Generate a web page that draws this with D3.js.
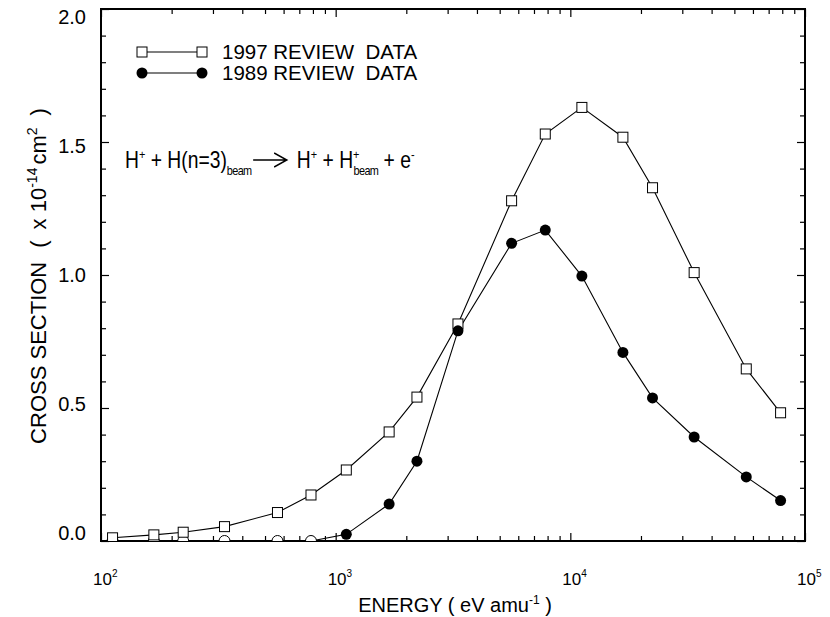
<!DOCTYPE html>
<html>
<head>
<meta charset="utf-8">
<script src="https://cdn.jsdelivr.net/npm/d3@7"></script>
<style>
  body { margin: 0; background: #fff; }
  svg { display: block; }
  text { font-family: "Liberation Sans", Arial, Helvetica, sans-serif; fill: #000; white-space: pre; }
</style>
</head>
<body>
<svg id="chart" width="830" height="617"></svg>
<script>
// Ionization cross section, H+ + H(n=3) collisions (units of 1e-14 cm^2)
const energy1997 = [112, 168, 224, 336, 565, 785, 1110, 1690, 2220, 3320, 5620, 7820, 11200, 16750, 22400, 33700, 56200, 78700];
const sigma1997  = [0.012, 0.023, 0.033, 0.054, 0.107, 0.173, 0.267, 0.41, 0.541, 0.816, 1.279, 1.530, 1.630, 1.518, 1.328, 1.009, 0.647, 0.482];

const energy1989 = [1110, 1690, 2220, 3320, 5620, 7820, 11200, 16750, 22400, 33700, 56200, 78700];
const sigma1989  = [0.025, 0.139, 0.30, 0.79, 1.119, 1.169, 0.996, 0.709, 0.538, 0.391, 0.241, 0.152];

// 1989 points at the lower edge of the range (drawn as open circles)
const energy1989Low = [112, 168, 224, 336, 565, 785];
const sigma1989Low  = [0, 0, 0, 0, 0, 0];

const xMajorTicks = [1e2, 1e3, 1e4, 1e5];
const xTickExponents = ["2", "3", "4", "5"];
const yMajorTicks = [0, 0.5, 1.0, 1.5, 2.0];
const yTickLabels = ["0.0", "0.5", "1.0", "1.5", "2.0"];
const legendLabels = ["1997 REVIEW  DATA", "1989 REVIEW  DATA"];

const svg = d3.select("#chart");
const plot = { left: 101, right: 805, top: 9, bottom: 541 };

const x = d3.scaleLog().domain([1e2, 1e5]).range([plot.left, plot.right]);
const y = d3.scaleLinear().domain([0, 2]).range([plot.bottom, plot.top]);
// tick labels sit slightly inside the frame's vertical extent
const yLabel = d3.scaleLinear().domain([0, 2]).range([533, 17]);

// minor tick values
const xMinor = [];
for (let d = 2; d < 5; d++) for (let m = 2; m <= 9; m++) xMinor.push(m * Math.pow(10, d));
const yMinor = d3.range(0, 21).map(i => i / 10).filter(v => !yMajorTicks.some(t => Math.abs(t - v) < 1e-9));

const axes = svg.append("g");
function tickAxis(axisFn, scale, values, size, transform) {
  const g = axes.append("g").attr("transform", transform)
    .call(axisFn(scale).tickValues(values).tickSize(size).tickFormat(""));
  g.select(".domain").remove();
  g.selectAll(".tick line").attr("stroke", "#000").attr("stroke-width", 1.2);
  return g;
}
// inward ticks on all four sides
tickAxis(d3.axisBottom, x, xMinor, -5, `translate(0,${plot.bottom})`);
tickAxis(d3.axisBottom, x, xMajorTicks, -8, `translate(0,${plot.bottom})`);
tickAxis(d3.axisTop, x, xMinor, -5, `translate(0,${plot.top})`);
tickAxis(d3.axisTop, x, xMajorTicks, -8, `translate(0,${plot.top})`);
tickAxis(d3.axisLeft, y, yMinor, -5, `translate(${plot.left},0)`);
tickAxis(d3.axisLeft, y, yMajorTicks, -8, `translate(${plot.left},0)`);
tickAxis(d3.axisRight, y, yMinor, -5, `translate(${plot.right},0)`);
tickAxis(d3.axisRight, y, yMajorTicks, -8, `translate(${plot.right},0)`);

// frame
axes.append("rect")
  .attr("x", plot.left).attr("y", plot.top)
  .attr("width", plot.right - plot.left).attr("height", plot.bottom - plot.top)
  .attr("fill", "none").attr("stroke", "#000").attr("stroke-width", 2);

// y tick labels
svg.append("g").selectAll("text").data(yMajorTicks).join("text")
  .attr("x", 86).attr("y", d => yLabel(d)).attr("dy", "0.36em")
  .attr("text-anchor", "end").attr("font-size", 20)
  .text((d, i) => yTickLabels[i]);

// x tick labels: 10 with superscript exponent
const xl = svg.append("g").selectAll("text").data(xMajorTicks).join("text")
  .attr("x", d => x(d) - 8).attr("y", 585).attr("font-size", 17);
xl.append("tspan").text("10");
xl.append("tspan").attr("dy", -8).attr("font-size", 10).text((d, i) => xTickExponents[i]);

// axis titles
const xt = svg.append("text").attr("x", 455).attr("y", 612).attr("text-anchor", "middle").attr("font-size", 20);
xt.append("tspan").text("ENERGY ( eV amu");
xt.append("tspan").attr("dy", -8).attr("font-size", 12).text("-1");
xt.append("tspan").attr("dy", 8).text(" )");

const yt = svg.append("text").attr("transform", "translate(46,276) rotate(-90)")
  .attr("text-anchor", "middle").attr("font-size", 22);
yt.append("tspan").text("CROSS SECTION");
yt.append("tspan").attr("dx", 14).text("(");
yt.append("tspan").attr("dx", 11).text("x 10");
yt.append("tspan").attr("dy", -9).attr("font-size", 14).text("-14");
yt.append("tspan").attr("dx", 3).attr("dy", 9).text("cm");
yt.append("tspan").attr("dy", -9).attr("font-size", 14).text("2");
yt.append("tspan").attr("dx", 12).attr("dy", 9).text(")");

// data
svg.append("clipPath").attr("id", "plotClip").append("rect")
  .attr("x", plot.left).attr("y", plot.top)
  .attr("width", plot.right - plot.left).attr("height", plot.bottom - plot.top);
const data = svg.append("g").attr("clip-path", "url(#plotClip)");

const line = d3.line().x(d => x(d[0])).y(d => y(d[1]));
const pts1997 = energy1997.map((e, i) => [e, sigma1997[i]]);
const pts1989 = energy1989.map((e, i) => [e, sigma1989[i]]);
const pts1989Low = energy1989Low.map((e, i) => [e, sigma1989Low[i]]);

data.append("path").datum(pts1989Low.concat(pts1989)).attr("d", line)
  .attr("fill", "none").attr("stroke", "#000").attr("stroke-width", 1.1);
data.append("path").datum(pts1997).attr("d", line)
  .attr("fill", "none").attr("stroke", "#000").attr("stroke-width", 1.1);

const sq = 10, r = 5.5;
data.selectAll(".low").data(pts1989Low).join("circle").attr("class", "low")
  .attr("cx", d => x(d[0])).attr("cy", d => y(d[1])).attr("r", r)
  .attr("fill", "#fff").attr("stroke", "#000").attr("stroke-width", 1);
data.selectAll(".sq").data(pts1997).join("rect").attr("class", "sq")
  .attr("x", d => x(d[0]) - sq / 2).attr("y", d => y(d[1]) - sq / 2)
  .attr("width", sq).attr("height", sq)
  .attr("fill", "#fff").attr("stroke", "#000").attr("stroke-width", 1);
data.selectAll(".dot").data(pts1989).join("circle").attr("class", "dot")
  .attr("cx", d => x(d[0])).attr("cy", d => y(d[1])).attr("r", r)
  .attr("fill", "#000");

// legend
const leg = svg.append("g");
[0, 1].forEach(i => {
  const ly = 52 + i * 21;
  leg.append("line").attr("x1", 142).attr("x2", 202).attr("y1", ly).attr("y2", ly)
    .attr("stroke", "#000").attr("stroke-width", 1.1);
  [142, 202].forEach(cx => {
    if (i === 0) {
      leg.append("rect").attr("x", cx - sq / 2).attr("y", ly - sq / 2).attr("width", sq).attr("height", sq)
        .attr("fill", "#fff").attr("stroke", "#000");
    } else {
      leg.append("circle").attr("cx", cx).attr("cy", ly).attr("r", r).attr("fill", "#000");
    }
  });
  leg.append("text").attr("x", 222).attr("y", ly).attr("dy", "0.36em")
    .attr("font-size", 20.5).text(legendLabels[i]);
});

// reaction
const eq = svg.append("g").attr("transform", "translate(125,168) scale(0.84,1)");
const left = eq.append("text").attr("font-size", 23);
left.append("tspan").text("H");
left.append("tspan").attr("dy", -9).attr("font-size", 13).text("+");
left.append("tspan").attr("dy", 9).text(" + H(n=3)");
left.append("tspan").attr("dy", 7).attr("font-size", 13).attr("letter-spacing", -0.8).text("beam");
const lw = left.node().getComputedTextLength();
const ax0 = lw + 2, ax1 = lw + 42, ay = -8;
eq.append("path")
  .attr("d", `M${ax0},${ay}H${ax1}M${ax1 - 15},${ay - 7}L${ax1},${ay}L${ax1 - 15},${ay + 7}`)
  .attr("fill", "none").attr("stroke", "#000").attr("stroke-width", 1.6);
const right = eq.append("text").attr("x", ax1 + 12).attr("font-size", 23);
right.append("tspan").text("H");
right.append("tspan").attr("dy", -9).attr("font-size", 13).text("+");
right.append("tspan").attr("dy", 9).text(" + H");
right.append("tspan").attr("dy", -9).attr("font-size", 13).text("+");
right.append("tspan").attr("dx", -7).attr("dy", 16).attr("font-size", 13).attr("letter-spacing", -0.8).text("beam");
right.append("tspan").attr("dy", -7).text(" + e");
right.append("tspan").attr("dy", -9).attr("font-size", 13).text("-");
</script>
</body>
</html>
